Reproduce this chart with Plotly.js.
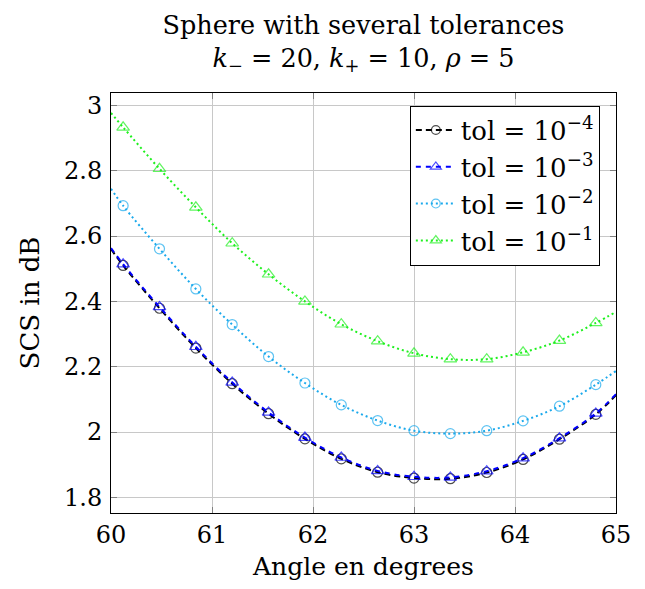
<!DOCTYPE html>
<html>
<head>
<meta charset="utf-8">
<script src="https://cdn.plot.ly/plotly-3.0.1.min.js"></script>
<style>
  html, body { margin: 0; padding: 0; background: #ffffff; }
  #chart { width: 645px; height: 589px; }
</style>
</head>
<body>
<div id="chart"></div>
<script>
// Angles (degrees): curve ends at 60 and 65, markers in between
const angles = [60, 60.12, 60.48, 60.84, 61.20, 61.56, 61.92, 62.28, 62.64, 63.00, 63.36, 63.72, 64.08, 64.44, 64.80, 65];

const scsTol4 = [2.560, 2.510, 2.379, 2.257, 2.148, 2.056, 1.979, 1.918, 1.877, 1.859, 1.857, 1.876, 1.916, 1.978, 2.054, 2.113];
const scsTol3 = [2.563, 2.514, 2.383, 2.261, 2.152, 2.060, 1.983, 1.922, 1.881, 1.863, 1.861, 1.880, 1.920, 1.981, 2.057, 2.116];
const scsTol2 = [2.745, 2.693, 2.561, 2.438, 2.329, 2.231, 2.150, 2.083, 2.035, 2.004, 1.995, 2.004, 2.034, 2.079, 2.145, 2.187];
const scsTol1 = [2.977, 2.933, 2.806, 2.688, 2.578, 2.483, 2.400, 2.330, 2.278, 2.241, 2.223, 2.223, 2.244, 2.280, 2.334, 2.368];

const seriesNames = ['tol = 10<sup>−4</sup>', 'tol = 10<sup>−3</sup>', 'tol = 10<sup>−2</sup>', 'tol = 10<sup>−1</sup>'];

const FONT = 'DejaVu Serif';

// hide markers at the curve end points
function sizes(s) { return angles.map((a, i) => (i === 0 || i === angles.length - 1) ? 0 : s); }

function trace(y, name, color, dash, symbol, msize) {
  return {
    x: angles, y: y, name: name, type: 'scatter', mode: 'lines+markers',
    line: { color: color, width: 2, dash: dash, shape: 'spline', smoothing: 1 },
    marker: { symbol: symbol, size: sizes(msize), color: color, line: { color: color, width: 1.2 } }
  };
}

const data = [
  trace(scsTol4, seriesNames[0], '#000000', '6px,4px', 'circle-open', 10),
  trace(scsTol3, seriesNames[1], '#0000ff', '5px,5px', 'triangle-up-open', 11),
  trace(scsTol2, seriesNames[2], '#1aa9ec', '2px,3px', 'circle-open', 10),
  trace(scsTol1, seriesNames[3], '#1ef01e', '2px,3px', 'triangle-up-open', 11)
];

const axisCommon = {
  showline: true, linecolor: '#000000', linewidth: 1, mirror: 'ticks',
  ticks: 'inside', ticklen: 6, tickcolor: '#7f7f7f', tickwidth: 1,
  showgrid: true, gridcolor: '#c8c8c8', gridwidth: 1, zeroline: false,
  tickfont: { family: FONT, size: 24, color: '#000000' }
};

const layout = {
  width: 645, height: 589,
  margin: { l: 111, r: 29, t: 93, b: 76 },
  paper_bgcolor: '#ffffff', plot_bgcolor: '#ffffff',
  font: { family: FONT, color: '#000000' },
  title: {
    text: 'Sphere with several tolerances<br><i>k</i><sub>−</sub> = 20, <i>k</i><sub>+</sub> = 10, <i>ρ</i> = 5',
    font: { family: FONT, size: 25.5, color: '#000000' },
    xref: 'paper', x: 0.5, xanchor: 'center', yref: 'container', y: 0.943, yanchor: 'top'
  },
  xaxis: Object.assign({}, axisCommon, {
    range: [60, 65], tickvals: [60, 61, 62, 63, 64, 65], ticktext: ['60', '61', '62', '63', '64', '65'],
    title: { text: 'Angle en degrees', font: { family: FONT, size: 25, color: '#000000' }, standoff: 9 }
  }),
  yaxis: Object.assign({}, axisCommon, {
    range: [1.752, 3.038], tickvals: [1.8, 2, 2.2, 2.4, 2.6, 2.8, 3], ticktext: ['1.8', '2', '2.2', '2.4', '2.6', '2.8', '3'],
    ticklabelstandoff: 3,
    title: { text: 'SCS in dB', font: { family: FONT, size: 26, color: '#000000' }, standoff: 16 }
  }),
  legend: {
    x: 0.968, xanchor: 'right', y: 0.97, yanchor: 'top',
    bgcolor: '#ffffff', bordercolor: '#000000', borderwidth: 1,
    font: { family: FONT, size: 26, color: '#000000' },
    itemwidth: 40, tracegroupgap: 0
  },
  showlegend: true
};

Plotly.newPlot('chart', data, layout, { displayModeBar: false, staticPlot: true });
</script>
</body>
</html>
